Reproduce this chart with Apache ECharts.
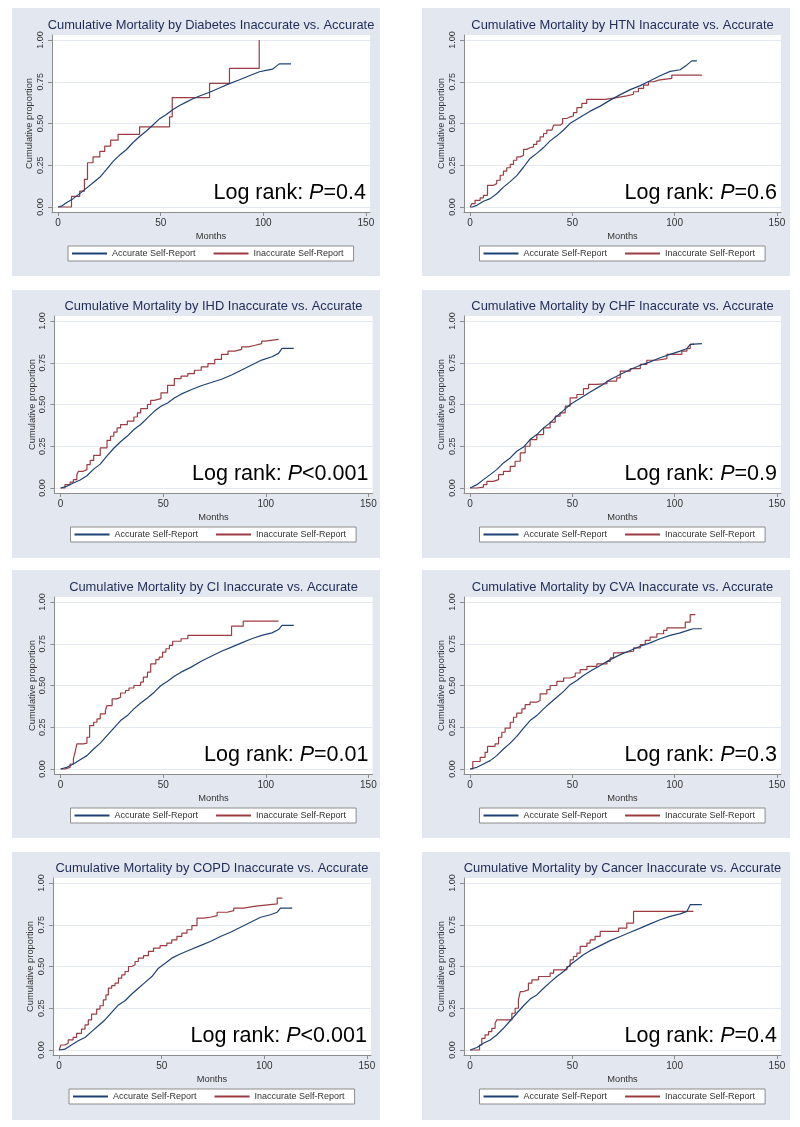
<!DOCTYPE html>
<html><head><meta charset="utf-8">
<script src="https://cdn.jsdelivr.net/npm/echarts@6/dist/echarts.min.js"></script>
<style>html,body{margin:0;padding:0;background:#fff}#c{width:800px;height:1127px}</style>
</head><body><div id="c"></div>
<script>
// ---------------- data ----------------
const panelNames = ['Diabetes','HTN','IHD','CHF','CI','CVA','COPD','Cancer'];
const pValues = ['=0.4','=0.6','<0.001','=0.9','=0.01','=0.3','<0.001','=0.4'];
const xTicks = [0,50,100,150];
const yTicks = [0,0.25,0.5,0.75,1];
const seriesNames = ['Accurate Self-Report','Inaccurate Self-Report'];

const diabetesAcc = [[0,0],[1.6,0.005],[4,0.026],[7.3,0.05],[10.5,0.08],[13.8,0.113],[17,0.145],[20.3,0.178],[23.5,0.224],[26.8,0.273],[30,0.311],[33.2,0.343],[36.5,0.386],[39.7,0.422],[43,0.455],[46.2,0.491],[49.5,0.529],[52.7,0.554],[56,0.584],[59.2,0.608],[62.4,0.628],[65.7,0.648],[68.9,0.665],[73.8,0.687],[78.6,0.713],[83.5,0.739],[88.4,0.762],[93.2,0.786],[98.1,0.81],[101.3,0.818],[104.6,0.826],[106.2,0.842],[107.8,0.857],[113.5,0.857]];
const diabetesInacc = [[0,0],[6.5,0.063],[10.5,0.095],[12.8,0.165],[14.3,0.265],[17,0.3],[20.3,0.333],[22.7,0.365],[25.6,0.4],[29.2,0.435],[39.7,0.48],[54.3,0.54],[55.6,0.655],[73.8,0.74],[83.5,0.83],[98,1.0]];

const htnAcc = [[0,0],[1,0],[3.3,0.01],[6.5,0.034],[9.8,0.05],[13,0.079],[16.3,0.119],[19.6,0.152],[22.8,0.188],[26.1,0.238],[29.3,0.291],[32.6,0.321],[35.9,0.356],[39.1,0.396],[42.4,0.426],[45.7,0.461],[48.9,0.501],[52.2,0.525],[55.4,0.55],[58.7,0.574],[63.6,0.604],[68.5,0.64],[73.4,0.673],[78.3,0.703],[83.2,0.727],[88,0.756],[92.9,0.786],[97.8,0.812],[102.7,0.822],[106,0.851],[108.4,0.875],[110.9,0.875]];
const htnInacc = [[0,0],[0.8,0.02],[2.4,0.04],[4.9,0.055],[6.5,0.07],[8.5,0.13],[11.4,0.14],[13,0.16],[14.7,0.19],[16.3,0.215],[17.9,0.235],[19.6,0.255],[21.2,0.28],[22.8,0.3],[24.5,0.31],[26.1,0.345],[27.7,0.355],[29.3,0.36],[31,0.375],[32.6,0.395],[34.2,0.42],[35.9,0.44],[37.5,0.46],[40,0.465],[40.8,0.49],[44,0.5],[45.2,0.53],[47.3,0.54],[48.9,0.545],[50.5,0.565],[52.2,0.595],[54.6,0.62],[57,0.645],[66,0.655],[71.7,0.665],[76.6,0.675],[79.9,0.69],[82.3,0.71],[84.8,0.73],[87.2,0.75],[89.7,0.76],[92.1,0.77],[98.6,0.79],[113.3,0.79]];

const ihdAcc = [[0,0],[3,0.01],[6.2,0.03],[9.5,0.048],[12.8,0.073],[16.1,0.113],[19.3,0.143],[22.6,0.192],[25.9,0.238],[29.2,0.277],[32.5,0.311],[35.7,0.35],[39,0.38],[42.3,0.42],[45.6,0.459],[48.9,0.489],[52.1,0.509],[55.4,0.539],[58.7,0.562],[63.6,0.588],[68.5,0.612],[73.4,0.632],[78.4,0.651],[83.3,0.677],[88.2,0.707],[93.1,0.737],[98,0.766],[103,0.786],[106.2,0.806],[107.9,0.836],[113.6,0.836]];
const ihdInacc = [[0,0],[2.1,0.02],[4.6,0.035],[6.2,0.05],[7.9,0.08],[8.7,0.1],[11.1,0.11],[12.8,0.14],[14.4,0.165],[16.1,0.195],[19.3,0.24],[22.6,0.285],[24.3,0.31],[25.9,0.335],[27.5,0.36],[29.2,0.38],[32.5,0.4],[35.7,0.425],[37.4,0.45],[39,0.475],[42.3,0.5],[43.9,0.525],[45.6,0.535],[48.9,0.57],[52.1,0.615],[55.4,0.655],[58.7,0.67],[62,0.685],[65.2,0.705],[68.5,0.725],[71.8,0.745],[75.1,0.77],[78.4,0.8],[81.6,0.82],[84.9,0.83],[88.2,0.845],[91.5,0.855],[94.8,0.865],[98,0.88],[99.7,0.89],[106.2,0.89]];

const chfAcc = [[0,0],[3.3,0.02],[6.5,0.05],[9.8,0.08],[13,0.11],[16.3,0.15],[19.6,0.18],[22.8,0.22],[26.1,0.245],[29.3,0.29],[32.6,0.32],[35.9,0.36],[39.1,0.39],[42.4,0.43],[45.7,0.465],[48.9,0.5],[52.2,0.525],[55.4,0.55],[58.7,0.575],[63.6,0.61],[68.5,0.65],[73.4,0.68],[78.3,0.71],[83.2,0.735],[88,0.755],[92.9,0.78],[97.8,0.8],[102.7,0.82],[106,0.835],[107.6,0.86],[113.3,0.865]];
const chfInacc = [[0,0],[3.3,0.005],[6.5,0.02],[8.2,0.04],[11.4,0.05],[13.9,0.08],[16.3,0.1],[19.6,0.13],[22,0.16],[24.5,0.21],[26.9,0.25],[29.3,0.29],[32.6,0.32],[35.9,0.36],[39.1,0.395],[41.6,0.43],[44,0.45],[46.5,0.49],[48.9,0.54],[52.2,0.56],[55.4,0.595],[57.9,0.62],[62,0.625],[66.9,0.64],[71.7,0.66],[73.4,0.7],[78.3,0.715],[83.2,0.74],[86.4,0.765],[91.3,0.775],[96.2,0.8],[101.1,0.8],[103.5,0.82],[106,0.835],[107.6,0.86],[109.2,0.865]];

const ciAcc = [[0,0],[3,0.01],[6.2,0.03],[9.5,0.055],[12.8,0.08],[16.1,0.12],[19.3,0.155],[22.6,0.2],[25.9,0.245],[29.2,0.29],[32.5,0.32],[35.7,0.36],[39,0.395],[42.3,0.425],[45.6,0.46],[48.9,0.5],[52.1,0.525],[55.4,0.555],[58.7,0.58],[63.6,0.61],[68.5,0.645],[73.4,0.675],[78.4,0.705],[83.3,0.73],[88.2,0.755],[93.1,0.78],[98,0.8],[103,0.815],[106.2,0.835],[107.9,0.86],[113.6,0.86]];
const ciInacc = [[0,0],[2.1,0.01],[4.6,0.03],[6.2,0.06],[7,0.1],[7.9,0.15],[11.1,0.155],[12.8,0.19],[14.1,0.26],[16.1,0.28],[17.7,0.3],[19.3,0.33],[21.8,0.35],[22.6,0.38],[25.1,0.42],[27.5,0.43],[29.2,0.455],[31.6,0.47],[33.3,0.485],[35.7,0.5],[39,0.52],[40.3,0.55],[42.3,0.58],[43.9,0.63],[46.4,0.655],[48,0.67],[49.7,0.7],[51.3,0.72],[53,0.74],[54.6,0.765],[58.7,0.78],[62,0.8],[83.3,0.855],[89,0.885],[106.2,0.885]];

const cvaAcc = [[0,0],[3.3,0.01],[6.5,0.03],[9.8,0.05],[13,0.08],[16.3,0.12],[19.6,0.155],[22.8,0.195],[26.1,0.245],[29.3,0.29],[32.6,0.32],[35.9,0.36],[39.1,0.395],[42.4,0.43],[45.7,0.465],[48.9,0.505],[52.2,0.53],[55.4,0.56],[58.7,0.585],[63.6,0.62],[68.5,0.655],[73.4,0.685],[78.3,0.71],[83.2,0.735],[88,0.755],[92.9,0.78],[97.8,0.8],[102.7,0.815],[107.6,0.835],[109.2,0.84],[113.3,0.84]];
const cvaInacc = [[0,0],[1.3,0.045],[4.9,0.07],[7.3,0.1],[8.5,0.135],[12.2,0.15],[13.9,0.19],[15.5,0.22],[17.1,0.245],[19.6,0.28],[21.2,0.31],[22.8,0.335],[25.3,0.36],[26.9,0.385],[29.3,0.4],[32.6,0.41],[34.2,0.45],[37.5,0.475],[39.1,0.5],[42.4,0.525],[45.7,0.545],[48.9,0.555],[51.4,0.575],[53.8,0.595],[57.1,0.615],[62,0.63],[66.9,0.645],[68.5,0.665],[70.1,0.695],[73.4,0.705],[79.9,0.725],[83.2,0.745],[85.6,0.77],[88,0.79],[91.3,0.81],[94.6,0.83],[96.2,0.845],[105.2,0.88],[107.6,0.925],[110.1,0.925]];

const copdAcc = [[0,0],[2.8,0.005],[6,0.03],[9.3,0.055],[12.6,0.075],[15.8,0.11],[19.1,0.145],[22.3,0.18],[25.6,0.225],[28.9,0.27],[32.1,0.295],[35.4,0.335],[38.6,0.37],[41.9,0.405],[45.2,0.44],[48.4,0.49],[51.7,0.52],[54.9,0.55],[59,0.575],[63.9,0.6],[68.8,0.625],[73.7,0.65],[78.6,0.68],[83.5,0.705],[88.4,0.735],[93.3,0.765],[98.2,0.795],[103,0.81],[106.3,0.825],[107.9,0.85],[113.6,0.85]];
const copdInacc = [[0,0],[0.8,0.03],[2.8,0.04],[4.4,0.06],[6.8,0.075],[8.5,0.1],[10.9,0.125],[12.6,0.15],[14.2,0.18],[15.8,0.215],[18.3,0.245],[19.9,0.265],[21.5,0.3],[22.8,0.33],[24,0.37],[25.6,0.385],[27.2,0.4],[28.9,0.43],[30.5,0.45],[32.1,0.47],[33.8,0.5],[35.4,0.51],[37,0.53],[38.6,0.55],[41.1,0.565],[43.5,0.59],[46,0.61],[49.2,0.625],[52.5,0.64],[54.9,0.66],[57.4,0.68],[59.8,0.7],[62.3,0.72],[64.7,0.745],[67.2,0.79],[70.4,0.795],[73.7,0.805],[77,0.825],[81.9,0.835],[85.1,0.85],[90,0.86],[94.9,0.865],[98.2,0.875],[106.3,0.91],[108.8,0.91]];

const cancerAcc = [[0,0],[3.3,0.015],[6.5,0.04],[9.8,0.06],[13,0.09],[16.3,0.13],[19.6,0.175],[22.8,0.22],[26.1,0.265],[29.3,0.305],[32.6,0.33],[35.9,0.37],[39.1,0.405],[42.4,0.44],[45.7,0.47],[48.9,0.51],[52.2,0.54],[55.4,0.57],[58.7,0.595],[63.6,0.625],[68.5,0.655],[73.4,0.68],[78.3,0.705],[83.2,0.73],[88,0.755],[92.9,0.78],[97.8,0.8],[102.7,0.815],[106,0.83],[107.6,0.87],[113.3,0.87]];
const cancerInacc = [[0,0],[4.6,0.03],[5.7,0.07],[7.3,0.09],[9,0.11],[10.6,0.13],[12.2,0.16],[13,0.18],[20.4,0.22],[22,0.25],[23.6,0.3],[24.5,0.35],[26.1,0.36],[28.5,0.4],[30.2,0.42],[33.4,0.44],[39.1,0.46],[40.8,0.48],[47.3,0.5],[48.9,0.54],[50.5,0.56],[52.2,0.58],[53.8,0.62],[57.1,0.64],[58.7,0.66],[61.1,0.68],[63.6,0.71],[72.6,0.73],[76.6,0.76],[79.9,0.83],[109.2,0.83]];

const accurateSets = [diabetesAcc, htnAcc, ihdAcc, chfAcc, ciAcc, cvaAcc, copdAcc, cancerAcc];
const inaccurateSets = [diabetesInacc, htnInacc, ihdInacc, chfInacc, ciInacc, cvaInacc, copdInacc, cancerInacc];

// ---------------- layout / style ----------------
const FONT = '"Liberation Sans", Arial, Helvetica, sans-serif';
const panelLeft = [12, 422], panelW = 368, panelTop = [8, 290, 570, 852], panelH = 268;
const gridLeft = [52, 464, 54.5, 464, 54.5, 464, 53, 464];
const gridTop = [35, 316, 597, 878];
const gridW = [318, 317], gridH = 177;
const X_MIN = -3, X_MAX = 152, Y_MIN = -0.03, Y_MAX = 1.03;
const BLUE = '#1f4275', RED = '#9c3c42';
const AXIS = '#8c8c8c';

const grids = [], xAxes = [], yAxes = [], series = [], legends = [], graphics = [];
for (let i = 0; i < 8; i++) {
  const c = i % 2, r = Math.floor(i / 2);
  const gl = gridLeft[i], gt = gridTop[r], gw = gridW[c];
  const pxPerX = gw / (X_MAX - X_MIN);
  const x150 = gl + (150 - X_MIN) * pxPerX;
  const cx = gl + gw / 2;
  graphics.push({type: 'rect', z: -10, silent: true,
    shape: {x: panelLeft[c], y: panelTop[r], width: panelW, height: panelH},
    style: {fill: '#e3e7f0'}});
  graphics.push({type: 'text', silent: true, x: cx, y: gt - 10,
    style: {text: 'Cumulative Mortality by ' + panelNames[i] + ' Inaccurate vs. Accurate',
      fill: '#1e2b55', font: '12.9px ' + FONT, align: 'center', verticalAlign: 'middle',
      textAlign: 'center', textVerticalAlign: 'middle'}});
  graphics.push({type: 'text', silent: true, x: x150, y: gt + 158,
    style: {text: 'Log rank: {i|P}' + pValues[i], fill: '#000', fontSize: 21.5, fontFamily: FONT,
      align: 'right', verticalAlign: 'middle', textAlign: 'right', textVerticalAlign: 'middle',
      rich: {i: {fontStyle: 'italic', fontSize: 21.5, fontFamily: FONT, fill: '#000'}}}});

  grids.push({left: gl, top: gt, width: gw, height: gridH, show: true,
    backgroundColor: '#fff', borderWidth: 0, containLabel: false});
  xAxes.push({type: 'value', gridIndex: i, min: X_MIN, max: X_MAX,
    axisLine: {show: true, onZero: false, lineStyle: {color: AXIS, width: 1}},
    axisTick: {show: true, customValues: xTicks, length: 4, lineStyle: {color: AXIS}},
    axisLabel: {customValues: xTicks, fontSize: 10, color: '#333', margin: 6, fontFamily: FONT},
    splitLine: {show: false},
    name: 'Months', nameLocation: 'middle', nameGap: 20,
    nameTextStyle: {fontSize: 9.3, color: '#333', fontFamily: FONT}});
  yAxes.push({type: 'value', gridIndex: i, min: Y_MIN, max: Y_MAX,
    axisLine: {show: true, onZero: false, lineStyle: {color: AXIS, width: 1}},
    axisTick: {show: true, customValues: yTicks, length: 4, lineStyle: {color: AXIS}},
    axisLabel: {customValues: yTicks, rotate: 90, fontSize: 9, color: '#333', margin: 7,
      fontFamily: FONT, formatter: v => v.toFixed(2)},
    splitLine: {show: true, lineStyle: {color: '#e4e8ef', width: 1}},
    name: 'Cumulative proportion', nameLocation: 'middle', nameGap: 18, nameRotate: 90,
    nameTextStyle: {fontSize: 9.3, color: '#333', fontFamily: FONT}});
  series.push({type: 'line', name: seriesNames[0], xAxisIndex: i, yAxisIndex: i,
    data: accurateSets[i], showSymbol: false, symbol: 'none', z: 3,
    lineStyle: {color: BLUE, width: 1.2}, itemStyle: {color: BLUE}});
  series.push({type: 'line', name: seriesNames[1], xAxisIndex: i, yAxisIndex: i,
    data: inaccurateSets[i], step: 'end', showSymbol: false, symbol: 'none', z: 2,
    lineStyle: {color: RED, width: 1.2}, itemStyle: {color: RED}});
  legends.push({data: seriesNames, left: cx - 143, top: gt + 211, orient: 'horizontal',
    icon: 'rect', itemWidth: 35, itemHeight: 2, itemGap: 18, padding: [3, 10, 3, 4],
    backgroundColor: '#fff', borderColor: '#8c8c8c', borderWidth: 1, selectedMode: false,
    textStyle: {fontSize: 9, color: '#333', fontFamily: FONT}});
}

const chart = echarts.init(document.getElementById('c'), null, {renderer: 'canvas'});
chart.setOption({
  animation: false,
  backgroundColor: '#fff',
  grid: grids, xAxis: xAxes, yAxis: yAxes, series: series, legend: legends,
  graphic: {elements: graphics}
});
</script></body></html>
